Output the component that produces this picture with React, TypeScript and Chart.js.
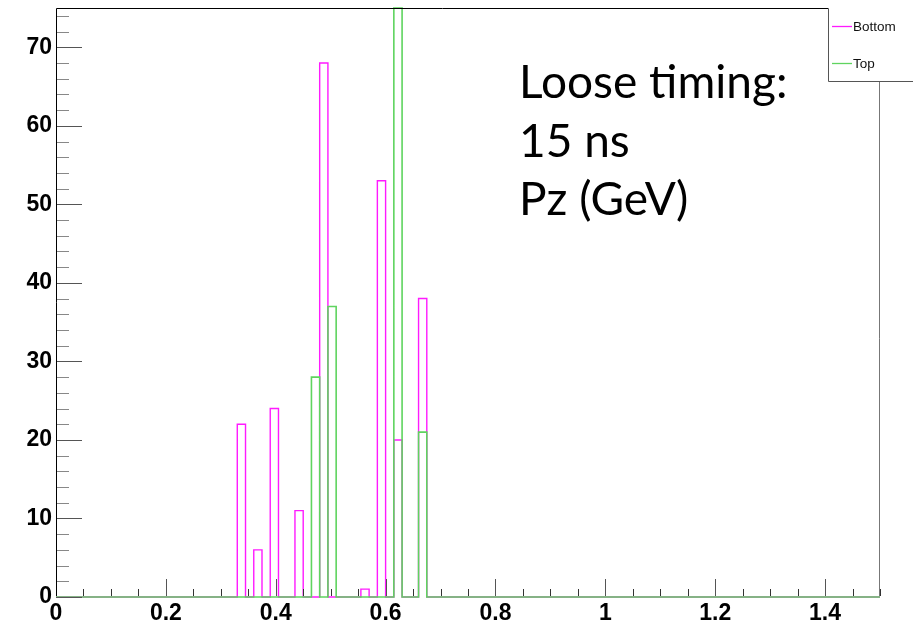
import React, { useEffect, useRef } from "react";
import { Chart, registerables } from "chart.js";

Chart.register(...registerables);

// Histogram binning (100 bins from 0 to 1.5)
const xMin = 0;
const xMax = 1.5;
const binWidth = 0.015;
const nBins = 100;

// Non-empty bins: low edge of the bin and its count
const bottomBinLow = [0.33, 0.36, 0.39, 0.435, 0.48, 0.555, 0.585, 0.615, 0.66];
const bottomCounts = [22, 6, 24, 11, 68, 1, 53, 20, 38];
const topBinLow = [0.465, 0.495, 0.615, 0.66];
const topCounts = [28, 37, 75, 21];

const seriesNames = ["Bottom", "Top"];
const xTickValues = [0, 0.2, 0.4, 0.6, 0.8, 1, 1.2, 1.4];
const yTickValues = [0, 10, 20, 30, 40, 50, 60, 70];
const yMax = 75;
const noteLines = ["Loose timing:", "15 ns", "Pz (GeV)"];

const BOTTOM_COLOR = "#ff1aff";
const TOP_COLOR = "#5fd45f";

function buildSteps(lows: number[], counts: number[]) {
  const bins: number[] = new Array(nBins).fill(0);
  lows.forEach((lo, k) => {
    const idx = Math.round((lo - xMin) / binWidth);
    bins[idx] = counts[k];
  });
  const pts: { x: number; y: number }[] = [];
  for (let i = 0; i < nBins; i++) {
    pts.push({ x: xMin + i * binWidth, y: bins[i] });
  }
  pts.push({ x: xMax, y: 0 });
  return pts;
}

const decorPlugin = {
  id: "rootDecor",
  afterDatasetsDraw(chart: any) {
    const ctx = chart.ctx as CanvasRenderingContext2D;
    const xs = chart.scales.x;
    const ys = chart.scales.y;
    const area = chart.chartArea;
    ctx.save();
    // ticks
    ctx.lineWidth = 1;
    for (let v = 0; v <= yMax + 1e-9; v += 2) {
      const py = Math.round(ys.getPixelForValue(v)) + 0.5;
      const major = Math.abs(v % 10) < 1e-9;
      ctx.strokeStyle = major ? "#555" : "#888";
      ctx.beginPath();
      ctx.moveTo(area.left, py);
      ctx.lineTo(area.left + (major ? 26 : 13), py);
      ctx.stroke();
    }
    for (let k = 0; k <= 30; k++) {
      const v = k * 0.05;
      const px = Math.round(xs.getPixelForValue(v)) + 0.5;
      const major = k % 4 === 0;
      ctx.strokeStyle = major ? "#555" : "#333";
      ctx.beginPath();
      ctx.moveTo(px, area.bottom - 1);
      ctx.lineTo(px, area.bottom - (major ? 18 : 8));
      ctx.stroke();
    }
    // frame
    const legLeft = 828.5;
    const legBottom = 81.5;
    const top = Math.round(area.top) + 0.5;
    ctx.strokeStyle = "#000";
    ctx.beginPath();
    ctx.moveTo(area.left + 0.5, area.bottom - 1);
    ctx.lineTo(area.left + 0.5, top);
    ctx.lineTo(legLeft, top);
    ctx.stroke();
    ctx.strokeStyle = "#777";
    ctx.beginPath();
    ctx.moveTo(Math.round(area.right) - 0.5, legBottom);
    ctx.lineTo(Math.round(area.right) - 0.5, area.bottom - 1);
    ctx.stroke();
    // legend box
    ctx.fillStyle = "#fff";
    ctx.fillRect(legLeft, top, chart.width - legLeft, legBottom - top);
    ctx.strokeStyle = "#555";
    ctx.beginPath();
    ctx.moveTo(legLeft, top);
    ctx.lineTo(legLeft, legBottom);
    ctx.lineTo(chart.width, legBottom);
    ctx.stroke();
    const entries = [
      { name: seriesNames[0], color: BOTTOM_COLOR, y: 26.5 },
      { name: seriesNames[1], color: TOP_COLOR, y: 63.5 },
    ];
    ctx.font = "13.5px 'Liberation Sans', Arial, sans-serif";
    ctx.textBaseline = "middle";
    ctx.textAlign = "left";
    entries.forEach((e) => {
      ctx.strokeStyle = e.color;
      ctx.lineWidth = 1.3;
      ctx.beginPath();
      ctx.moveTo(832, e.y);
      ctx.lineTo(852, e.y);
      ctx.stroke();
      ctx.fillStyle = "#111";
      ctx.fillText(e.name, 853, e.y + 1);
    });
    // annotation text
    ctx.fillStyle = "#000";
    ctx.textBaseline = "alphabetic";
    ctx.font = "46px Lato, 'Open Sans', sans-serif";
    const baselines = [98, 157, 215];
    noteLines.forEach((t, i) => ctx.fillText(t, 519, baselines[i]));
    ctx.restore();
  },
};

export default function App() {
  const ref = useRef<HTMLCanvasElement | null>(null);
  useEffect(() => {
    document.body.style.margin = "0";
    if (!ref.current) return;
    const tickFont = { family: "'Liberation Sans', Arial, sans-serif", size: 23, weight: "bold" as const };
    const chart = new Chart(ref.current, {
      type: "line",
      data: {
        datasets: [
          {
            label: seriesNames[1],
            data: buildSteps(topBinLow, topCounts),
            borderColor: TOP_COLOR,
            borderWidth: 1.6,
            pointRadius: 0,
            stepped: true,
            fill: false,
            clip: 3,
            order: 0,
          },
          {
            label: seriesNames[0],
            data: buildSteps(bottomBinLow, bottomCounts),
            borderColor: BOTTOM_COLOR,
            borderWidth: 1.4,
            pointRadius: 0,
            stepped: true,
            fill: false,
            clip: 3,
            order: 1,
          },
        ],
      },
      options: {
        animation: false,
        responsive: false,
        layout: { padding: { top: 8, right: 33, left: 0, bottom: 0 } },
        plugins: { legend: { display: false }, tooltip: { enabled: false } },
        scales: {
          x: {
            type: "linear",
            min: xMin,
            max: xMax,
            grid: { display: false, drawTicks: false },
            border: { display: false },
            afterBuildTicks: (s: any) => {
              s.ticks = xTickValues.map((v) => ({ value: v }));
            },
            afterFit: (s: any) => {
              s.height = 30;
              s.paddingLeft = 0;
              s.paddingRight = 0;
            },
            ticks: {
              font: tickFont,
              color: "#000",
              padding: 3,
              maxRotation: 0,
              autoSkip: false,
              callback: (v: any) => String(v),
            },
          },
          y: {
            type: "linear",
            min: 0,
            max: yMax,
            grid: { display: false, drawTicks: false },
            border: { display: false },
            afterBuildTicks: (s: any) => {
              s.ticks = yTickValues.map((v) => ({ value: v }));
            },
            afterFit: (s: any) => {
              s.width = 56;
              s.paddingTop = 0;
              s.paddingBottom = 0;
            },
            ticks: {
              font: tickFont,
              color: "#000",
              padding: 4,
              autoSkip: false,
              callback: (v: any) => String(v),
            },
          },
        },
      },
      plugins: [decorPlugin],
    });
    return () => chart.destroy();
  }, []);
  return <canvas ref={ref} width={913} height={627} style={{ display: "block" }} />;
}
